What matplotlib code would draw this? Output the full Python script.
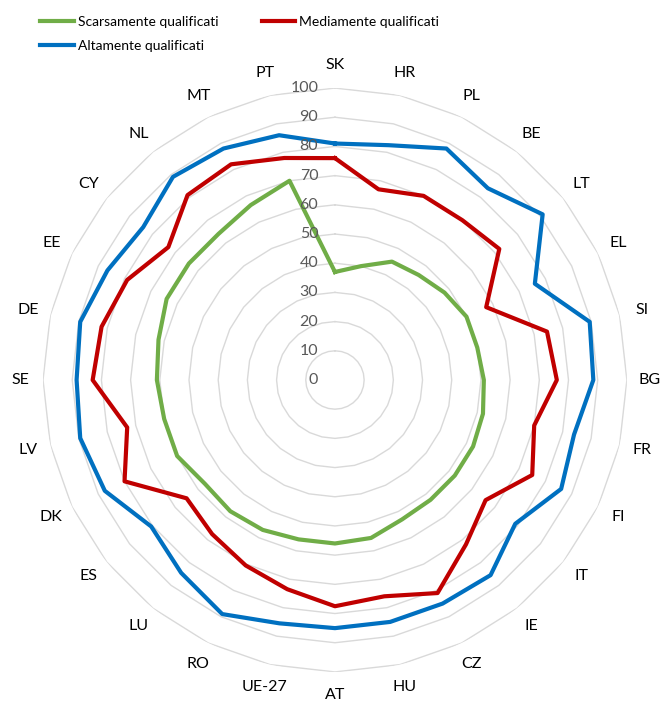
import numpy as np
import matplotlib.pyplot as plt
from matplotlib.transforms import offset_copy

plt.rcParams['font.family'] = ['Lato', 'DejaVu Sans']

paesi = ["SK", "HR", "PL", "BE", "LT", "EL", "SI", "BG", "FR", "FI", "IT", "IE",
         "CZ", "HU", "AT", "UE-27", "RO", "LU", "ES", "DK", "LV", "SE", "DE",
         "EE", "CY", "NL", "MT", "PT"]

scarsamente = [37, 40, 45, 46, 48, 50, 50, 51, 52, 52.5, 52.5, 52.5,
               53, 55.5, 56, 56, 57, 57.5, 57, 60, 60, 61, 62,
               64, 64, 64, 66.5, 70]
mediamente = [76, 67, 70, 70, 72, 57.5, 74.5, 76, 70, 75, 66, 72,
              81, 76, 77.5, 73.5, 70.5, 67.5, 65, 80, 73, 83, 82,
              79, 73, 81, 82, 78]
altamente = [81, 82.5, 88, 84, 91, 76, 89.5, 88.5, 84, 86, 79, 85.5,
             85, 85, 85, 85.5, 89, 84.5, 80.5, 87.5, 89.5, 88.5, 89.5,
             86.5, 84, 89, 88, 86]

livelli = list(range(0, 101, 10))

n = len(paesi)
angoli = np.linspace(0, 2 * np.pi, n, endpoint=False)
chiusi = np.concatenate([angoli, angoli[:1]])

fig = plt.figure(figsize=(6.65, 7.02), dpi=100)
ax = fig.add_axes([0.0647, 0.0427, 0.878, 0.832], projection='polar')
ax.set_theta_offset(np.pi / 2)
ax.set_theta_direction(-1)
ax.set_ylim(0, 100)
ax.grid(False)
ax.spines['polar'].set_visible(False)
ax.set_yticks([])

# anelli poligonali della griglia
for v in livelli[1:]:
    ax.plot(chiusi, [v] * (n + 1), color='#d9d9d9', lw=1, zorder=1)

serie = [("Scarsamente qualificati", scarsamente, '#70AD47'),
         ("Mediamente qualificati", mediamente, '#C00000'),
         ("Altamente qualificati", altamente, '#0070C0')]
linee = {}
for nome, valori, colore in serie:
    vals = list(valori) + [valori[0]]
    l, = ax.plot(chiusi, vals, color=colore, lw=3, zorder=3, label=nome)
    linee[nome] = l

# etichette dell'asse radiale
trans = offset_copy(ax.transData, fig=fig, x=-12, y=0, units='points')
for v in livelli:
    ax.text(0, v, str(v), transform=trans, ha='right', va='center',
            fontsize=11.5, color='#595959', zorder=4)

ax.set_xticks(angoli)
ax.set_xticklabels(paesi, fontsize=11.5, color='black')
ax.tick_params(axis='x', pad=6)

ordine = ["Scarsamente qualificati", "Altamente qualificati", "Mediamente qualificati"]
fig.legend([linee[k] for k in ordine], ordine, ncol=2, loc='upper left',
           bbox_to_anchor=(0.042, 0.995), frameon=False, fontsize=10,
           handlelength=2.4, handletextpad=0.3, columnspacing=3.1,
           labelspacing=0.85)

fig.savefig("out.png", dpi=100)
